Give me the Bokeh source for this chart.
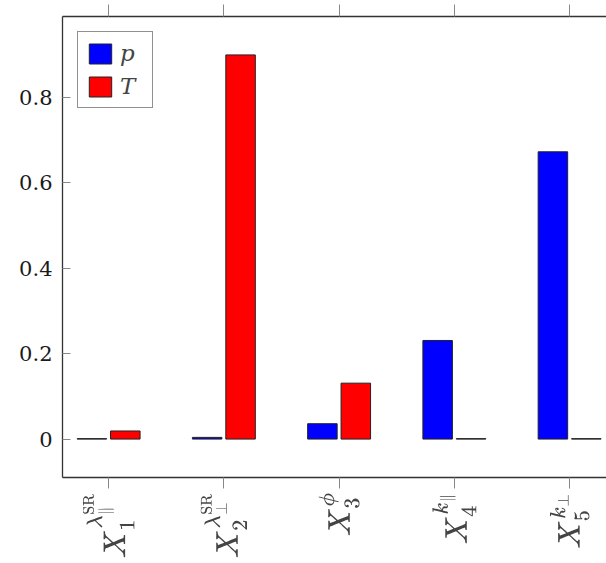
import math
from bokeh.plotting import figure
from bokeh.models import (ColumnDataSource, LinearAxis, FixedTicker, Range1d,
                          Legend, LegendItem, TeX)
from bokeh.transform import dodge
from bokeh.embed import file_html
from bokeh.resources import INLINE

# ---- data ----
positions = [1, 2, 3, 4, 5]
tick_labels = [
    r"X_1^{\lambda_{\parallel}^{\mathrm{SR}}}",
    r"X_2^{\lambda_{\perp}^{\mathrm{SR}}}",
    r"X_3^{\phi}",
    r"X_4^{k_{\parallel}}",
    r"X_5^{k_{\perp}}",
]
p_values = [0.001, 0.004, 0.036, 0.231, 0.673]
T_values = [0.019, 0.900, 0.131, 0.001, 0.001]
y_ticks = [0, 0.2, 0.4, 0.6, 0.8]

source = ColumnDataSource(dict(x=positions, p=p_values, T=T_values))

SERIF = "DejaVu Serif"
FRAME = "#333333"
TICK = "#888888"

p = figure(frame_width=544, frame_height=461,
           min_border_left=62, min_border_right=0, min_border_top=16,
           min_border_bottom=86,
           x_range=Range1d(0.6, 5.32), y_range=Range1d(-0.09, 0.99),
           output_backend="svg", toolbar_location=None,
           x_axis_location=None, y_axis_location=None)
p.outline_line_color = None
p.grid.visible = False
p.background_fill_color = "white"
p.border_fill_color = "white"

bw = 0.256
off = 0.145
rp = p.vbar(x=dodge("x", -off, range=p.x_range), top="p", width=bw, bottom=0,
            source=source, fill_color="#0000ff", line_color="#222222", line_width=1)
rT = p.vbar(x=dodge("x", off, range=p.x_range), top="T", width=bw, bottom=0,
            source=source, fill_color="#ff0000", line_color="#222222", line_width=1)

# left axis
yaxis = LinearAxis(ticker=FixedTicker(ticks=y_ticks))
yaxis.major_tick_in = 8
yaxis.major_tick_out = 0
yaxis.minor_tick_line_color = None
yaxis.major_tick_line_color = TICK
yaxis.axis_line_color = FRAME
yaxis.axis_line_width = 1.3
yaxis.major_label_text_font = SERIF
yaxis.major_label_text_font_size = "21px"
yaxis.major_label_text_color = "#1a1a1a"
yaxis.major_label_standoff = 10
yaxis.major_label_overrides = {0: "0"}
p.add_layout(yaxis, "left")

# bottom axis
xaxis = LinearAxis(ticker=FixedTicker(ticks=positions))
xaxis.major_tick_in = 0
xaxis.major_tick_out = 11
xaxis.minor_tick_line_color = None
xaxis.major_tick_line_color = TICK
xaxis.axis_line_color = FRAME
xaxis.axis_line_width = 1.3
xaxis.major_label_text_font_size = "25px"
xaxis.major_label_orientation = math.pi / 2
xaxis.major_label_standoff = 3
xaxis.major_label_overrides = {pos: TeX(text=lab) for pos, lab in zip(positions, tick_labels)}
p.add_layout(xaxis, "below")

# top axis (frame + ticks only)
taxis = LinearAxis(ticker=FixedTicker(ticks=positions))
taxis.major_tick_in = 0
taxis.major_tick_out = 12
taxis.minor_tick_line_color = None
taxis.major_tick_line_color = TICK
taxis.axis_line_color = FRAME
taxis.axis_line_width = 1.3
taxis.major_label_text_font_size = "0px"
taxis.major_label_standoff = 0
taxis.major_label_overrides = {pos: "" for pos in positions}
p.add_layout(taxis, "above")

legend = Legend(items=[LegendItem(label="p", renderers=[rp]),
                       LegendItem(label="T", renderers=[rT])],
                location="top_left")
legend.margin = 15
legend.padding = 8
legend.spacing = 7
legend.glyph_width = 28
legend.glyph_height = 25
legend.label_height = 25
legend.label_standoff = 6
legend.label_width = 24
legend.label_text_font = SERIF
legend.label_text_font_style = "italic"
legend.label_text_font_size = "23px"
legend.border_line_color = "#222222"
legend.border_line_width = 1
legend.background_fill_alpha = 1
p.add_layout(legend)

open("out.html", "w").write(file_html(p, INLINE))
